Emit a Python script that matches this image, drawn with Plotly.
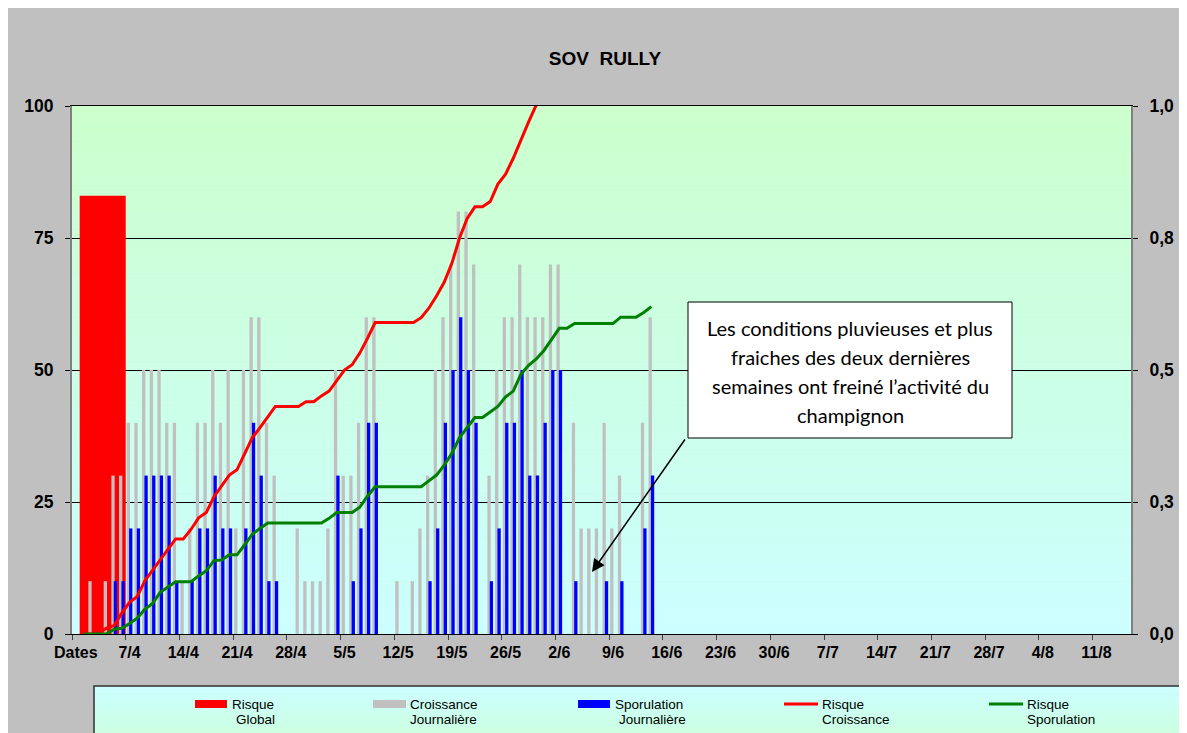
import plotly.graph_objects as go

# ---------------- data ----------------
TICK_LABELS = ["Dates", "7/4", "14/4", "21/4", "28/4", "5/5", "12/5", "19/5", "26/5",
               "2/6", "9/6", "16/6", "23/6", "30/6", "7/7", "14/7", "21/7", "28/7",
               "4/8", "11/8"]
N_CATEGORIES = 138          # "Dates" column + daily categories 1/4 .. 15/8
TICK_STEP = 7

# daily values, category 0 = "Dates", category k = k-th day from 1/4
CROISSANCE_JOURNALIERE = [0, 0, 10, 0, 10, 30, 30, 40, 40, 50,
                          50, 50, 40, 40, 10, 20, 40, 40, 50, 40,
                          50, 20, 50, 60, 60, 40, 30, 0, 0, 20,
                          10, 10, 10, 20, 50, 30, 30, 40, 60, 60,
                          0, 0, 10, 0, 10, 20, 30, 50, 60, 70,
                          80, 80, 70, 0, 30, 50, 60, 60, 70, 60,
                          60, 60, 70, 70, 0, 40, 20, 20, 20, 40,
                          20, 30, 0, 0, 40, 60]
SPORULATION_JOURNALIERE = [0, 0, 0, 0, 0, 10, 10, 20, 20, 30,
                           30, 30, 30, 10, 0, 10, 20, 20, 30, 20,
                           20, 0, 20, 40, 30, 10, 10, 0, 0, 0,
                           0, 0, 0, 0, 30, 0, 10, 20, 40, 40,
                           0, 0, 0, 0, 0, 0, 10, 20, 40, 50,
                           60, 50, 40, 0, 10, 20, 40, 40, 50, 30,
                           30, 40, 50, 50, 0, 10, 0, 0, 0, 10,
                           0, 10, 0, 0, 20, 30]
RISQUE_GLOBAL = [83]
RISQUE_GLOBAL_CATEGORIES = (1, 6)   # the red block covers the first week

RISQUE_CROISSANCE = [None, 0.0, 0.0, 0.002, 0.011, 0.016, 0.040, 0.060, 0.071, 0.101,
                     0.121, 0.140, 0.160, 0.180, 0.180, 0.198, 0.220, 0.230, 0.260, 0.280,
                     0.301, 0.311, 0.340, 0.372, 0.391, 0.411, 0.431, 0.431, 0.431, 0.431,
                     0.440, 0.440, 0.451, 0.460, 0.480, 0.500, 0.510, 0.532, 0.560, 0.590,
                     0.590, 0.590, 0.590, 0.590, 0.590, 0.599, 0.617, 0.640, 0.666, 0.702,
                     0.750, 0.787, 0.809, 0.809, 0.819, 0.852, 0.871, 0.901, 0.936, 0.970,
                     1.002]
RISQUE_SPORULATION = [None, 0.0, 0.0, 0.0, 0.0, 0.009, 0.011, 0.020, 0.030, 0.047,
                      0.058, 0.079, 0.089, 0.099, 0.099, 0.099, 0.110, 0.120, 0.139, 0.140,
                      0.150, 0.150, 0.169, 0.189, 0.200, 0.210, 0.210, 0.210, 0.210, 0.210,
                      0.210, 0.210, 0.210, 0.219, 0.230, 0.230, 0.230, 0.240, 0.261, 0.279,
                      0.279, 0.279, 0.279, 0.279, 0.279, 0.279, 0.290, 0.301, 0.320, 0.342,
                      0.372, 0.392, 0.410, 0.410, 0.420, 0.431, 0.449, 0.460, 0.492, 0.509,
                      0.521, 0.537, 0.558, 0.579, 0.579, 0.588, 0.588, 0.588, 0.588, 0.588,
                      0.588, 0.600, 0.600, 0.600, 0.609, 0.620]

LEFT_TICKS = [0, 25, 50, 75, 100]
RIGHT_TICKS = [0, 0.25, 0.5, 0.75, 1.0]
RIGHT_TICK_LABELS = ["0,0", "0,3", "0,5", "0,8", "1,0"]

NOTE_LINES = ["Les conditions pluvieuses et plus",
              "fraiches des deux dernières",
              "semaines ont freiné l’activité du",
              "champignon"]

# ---------------- geometry / style ----------------
W, H = 1187, 733
ML, MR, MT, MB = 64, 64, 98, 107
PW = W - ML - MR
PH = H - MT - MB
FONT = "Liberation Sans, Arial, sans-serif"
GRAY_BG = "#C0C0C0"


def px(x):
    return (x - ML) / PW


def py(y):
    return (MT + PH - y) / PH


def gradient(x0, x1, y0, y1, c_top, c_bot, n=60):
    out = []
    for k in range(n):
        t = (k + 0.5) / n
        col = tuple(round(a + (b - a) * t) for a, b in zip(c_top, c_bot))
        ya = y0 + (y1 - y0) * k / n
        yb = y0 + (y1 - y0) * (k + 1) / n + 0.6
        out.append(dict(type="rect", xref="paper", yref="paper",
                        x0=px(x0), x1=px(x1), y0=py(min(yb, y1)), y1=py(ya),
                        fillcolor="rgb(%d,%d,%d)" % col, line=dict(width=0),
                        layer="below"))
    return out


fig = go.Figure()

idx_bars = list(range(len(CROISSANCE_JOURNALIERE)))
g0, g1 = RISQUE_GLOBAL_CATEGORIES
fig.add_trace(go.Bar(x=[(g0 + g1) / 2], y=RISQUE_GLOBAL, width=[g1 - g0 + 1],
                     marker=dict(color="#FF0000", line=dict(width=0)),
                     name="Risque Global", showlegend=False))
fig.add_trace(go.Bar(x=idx_bars, y=CROISSANCE_JOURNALIERE, width=0.43, offset=-0.37,
                     marker=dict(color="#C0C0C0", line=dict(width=0)),
                     name="Croissance Journalière", showlegend=False))
fig.add_trace(go.Bar(x=idx_bars, y=SPORULATION_JOURNALIERE, width=0.43, offset=-0.06,
                     marker=dict(color="#0000FF", line=dict(width=0)),
                     name="Sporulation Journalière", showlegend=False))
fig.add_trace(go.Scatter(x=list(range(len(RISQUE_CROISSANCE))), y=RISQUE_CROISSANCE,
                         yaxis="y2", mode="lines", line=dict(color="#FF0000", width=3),
                         name="Risque Croissance", showlegend=False))
fig.add_trace(go.Scatter(x=list(range(len(RISQUE_SPORULATION))), y=RISQUE_SPORULATION,
                         yaxis="y2", mode="lines", line=dict(color="#008000", width=3),
                         name="Risque Sporulation", showlegend=False))

tick_font = dict(family=FONT, size=16, color="black", weight="bold")
ytick_font = dict(family=FONT, size=17.5, color="black", weight="bold")

shapes = []
# plot-area gradient (green at top -> cyan at bottom)
shapes += gradient(ML, ML + PW, MT, MT + PH, (204, 255, 204), (204, 255, 255))
# legend box gradient (cyan at top -> green at bottom)
LEG_X0, LEG_Y0, LEG_X1, LEG_Y1 = 86, 678, 1200, 760
shapes += gradient(LEG_X0, LEG_X1, LEG_Y0, LEG_Y1, (204, 255, 255), (204, 255, 204), n=20)
shapes.append(dict(type="rect", xref="paper", yref="paper", x0=px(LEG_X0), x1=px(LEG_X1),
                   y0=py(LEG_Y1), y1=py(LEG_Y0), line=dict(color="#303030", width=1.5),
                   fillcolor="rgba(0,0,0,0)", layer="below"))

# legend swatches
SW_Y0, SW_Y1, SW_YC = 692, 700, 696
for x0, x1, col in [(187, 219, "#FF0000"), (365, 398, "#C0C0C0"), (570, 602, "#0000FF")]:
    shapes.append(dict(type="rect", xref="paper", yref="paper", x0=px(x0), x1=px(x1),
                       y0=py(SW_Y1), y1=py(SW_Y0), fillcolor=col, line=dict(width=0)))
for x0, x1, col in [(776, 810, "#FF0000"), (981, 1015, "#008000")]:
    shapes.append(dict(type="line", xref="paper", yref="paper", x0=px(x0), x1=px(x1),
                       y0=py(SW_YC), y1=py(SW_YC), line=dict(color=col, width=3)))

# note box
BOX = (680, 294, 1004, 430)
shapes.append(dict(type="rect", xref="paper", yref="paper", x0=px(BOX[0]), x1=px(BOX[2]),
                   y0=py(BOX[3]), y1=py(BOX[1]), fillcolor="white",
                   line=dict(color="black", width=1)))

annotations = []
legend_text = [(222, "Risque"), (226, "Global"), (400, "Croissance"), (400, "Journalière"),
               (605, "Sporulation"), (609, "Journalière"), (812, "Risque"),
               (812, "Croissance"), (1017, "Risque"), (1017, "Sporulation")]
for k, (x, t) in enumerate(legend_text):
    y = 696 if k % 2 == 0 else 711
    annotations.append(dict(xref="paper", yref="paper", x=px(x), y=py(y), text=t,
                            xanchor="left", yanchor="middle", showarrow=False,
                            font=dict(family=FONT, size=13.5, color="black")))

for k, line in enumerate(NOTE_LINES):
    annotations.append(dict(xref="paper", yref="paper", x=px(842), y=py(320 + 29 * k),
                            text=line, xanchor="center", yanchor="middle", showarrow=False,
                            font=dict(family="Lato, Carlito, sans-serif", size=20, color="black")))

# arrow from the note box to the last weeks
TIP = (584, 564)
TAIL = (678, 430)
annotations.append(dict(xref="paper", yref="paper", x=px(TIP[0]), y=py(TIP[1]),
                        ax=TAIL[0] - TIP[0], ay=TAIL[1] - TIP[1], text="",
                        showarrow=True, arrowhead=2, arrowsize=1.7, arrowwidth=1.5,
                        arrowcolor="black", standoff=0, startstandoff=0))

fig.update_layout(
    width=W, height=H, autosize=False,
    margin=dict(l=ML, r=MR, t=MT, b=MB, pad=0),
    paper_bgcolor=GRAY_BG, plot_bgcolor="rgba(0,0,0,0)",
    barmode="overlay",
    showlegend=False,
    title=dict(text="SOV\u00a0\u00a0RULLY", x=597 / W, xref="container", xanchor="center",
               y=1 - 50 / H, yref="container", yanchor="middle",
               font=dict(family=FONT, size=19, color="black", weight="bold")),
    xaxis=dict(range=[-0.5, N_CATEGORIES - 0.5], tickmode="array",
               tickvals=[TICK_STEP * k for k in range(len(TICK_LABELS))],
               ticktext=TICK_LABELS, ticks="", showgrid=False, zeroline=False,
               showline=True, linecolor="black", linewidth=1, mirror=True,
               tickfont=tick_font, ticklabelstandoff=4,
               minor=dict(tickmode="array",
                          tickvals=[TICK_STEP * k - 0.5 for k in range(len(TICK_LABELS) + 1)],
                          ticks="outside", ticklen=5, tickcolor="#404040", showgrid=False)),
    yaxis=dict(range=[0, 100], tickmode="array", tickvals=LEFT_TICKS,
               showgrid=True, gridcolor="black", gridwidth=1, zeroline=False,
               showline=True, linecolor="#808080", linewidth=2,
               ticks="outside", ticklen=5, tickcolor="black",
               tickfont=ytick_font, ticklabelstandoff=8),
    yaxis2=dict(range=[0, 1], overlaying="y", side="right", tickmode="array",
                tickvals=RIGHT_TICKS, ticktext=RIGHT_TICK_LABELS, showgrid=False,
                zeroline=False, showline=True, linecolor="#808080", linewidth=2,
                ticks="outside", ticklen=5, tickcolor="black",
                tickfont=ytick_font, ticklabelstandoff=8),
    shapes=shapes,
    annotations=annotations,
)

fig.write_html("out.html")
